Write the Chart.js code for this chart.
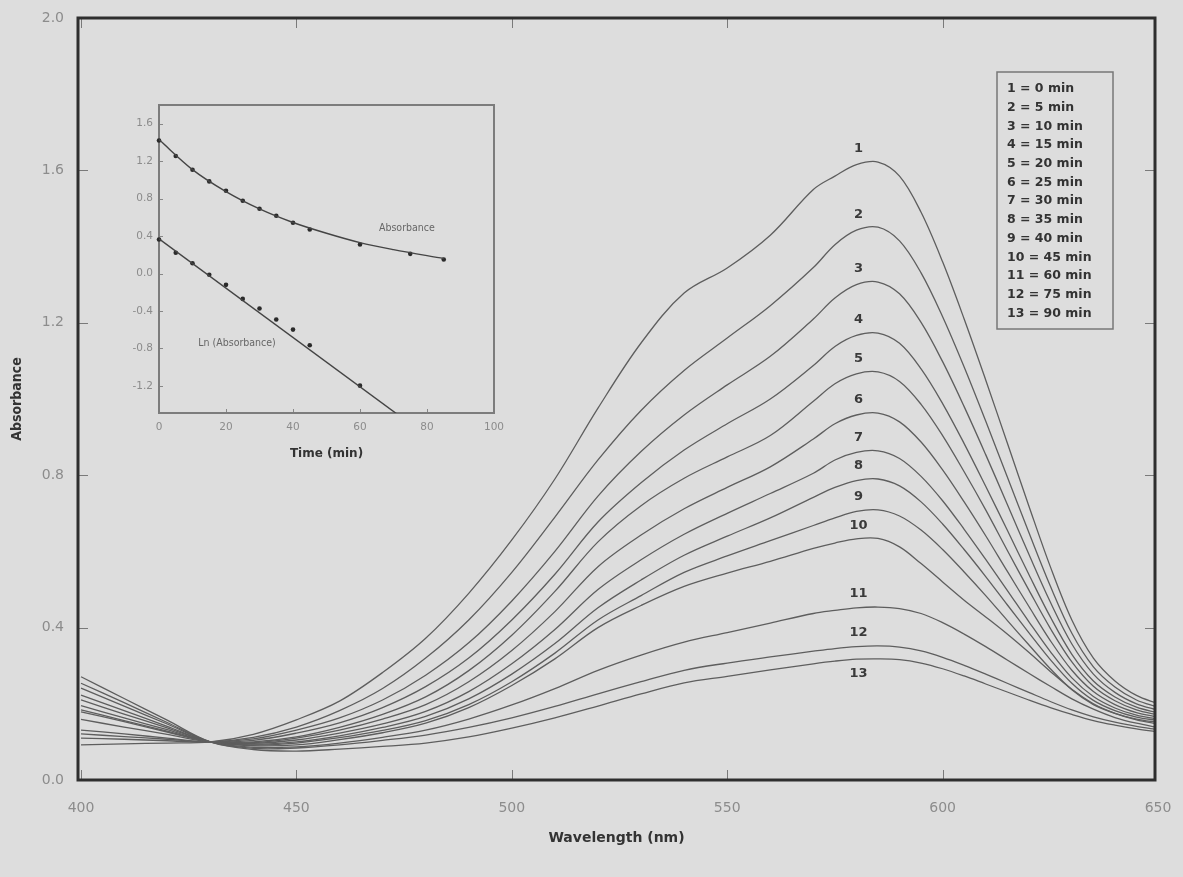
<!DOCTYPE html>
<html><head><meta charset="utf-8">
<script src="https://cdn.jsdelivr.net/npm/chart.js@4.4.1/dist/chart.umd.min.js"></script>
<style>
html,body{margin:0;padding:0;background:#dddddd;}
#wrap{position:relative;width:1183px;height:877px;overflow:hidden;}
#main{position:absolute;left:0;top:0;}
#inset{position:absolute;left:100px;top:95px;}
</style></head><body>
<div id="wrap"><canvas id="main" width="1183" height="877"></canvas><canvas id="inset" width="420" height="380"></canvas></div>
<script>
// ---------- main spectra (absorbance vs wavelength, nm) ----------
const wavelengths = [400,410,420,430,440,450,460,470,480,490,500,510,520,530,540,550,560,570,575,580,585,590,595,600,605,610,615,620,625,630,635,640,645,650];
const curve1  = [0.092,0.095,0.097,0.100,0.120,0.158,0.207,0.282,0.372,0.490,0.630,0.790,0.976,1.147,1.278,1.344,1.430,1.550,1.585,1.615,1.622,1.585,1.490,1.360,1.210,1.050,0.885,0.720,0.560,0.420,0.320,0.260,0.222,0.200];
const curve2  = [0.110,0.107,0.103,0.100,0.112,0.139,0.182,0.240,0.320,0.420,0.545,0.690,0.840,0.970,1.075,1.160,1.245,1.345,1.405,1.443,1.451,1.415,1.331,1.216,1.084,0.942,0.796,0.650,0.509,0.385,0.297,0.244,0.210,0.191];
const curve3  = [0.121,0.114,0.107,0.100,0.108,0.131,0.163,0.210,0.275,0.360,0.470,0.600,0.745,0.862,0.958,1.037,1.112,1.210,1.265,1.300,1.307,1.276,1.201,1.098,0.980,0.854,0.724,0.593,0.467,0.357,0.278,0.230,0.200,0.183];
const curve4  = [0.131,0.121,0.110,0.100,0.104,0.123,0.150,0.190,0.245,0.320,0.420,0.540,0.677,0.780,0.866,0.935,1.000,1.088,1.138,1.167,1.173,1.146,1.079,0.988,0.883,0.771,0.656,0.540,0.428,0.330,0.260,0.218,0.191,0.176];
const curve5  = [0.159,0.139,0.120,0.100,0.100,0.113,0.138,0.172,0.218,0.287,0.380,0.495,0.625,0.720,0.792,0.848,0.904,0.994,1.040,1.066,1.071,1.046,0.986,0.904,0.809,0.709,0.603,0.499,0.398,0.310,0.246,0.208,0.184,0.171];
const curve6  = [0.179,0.153,0.126,0.100,0.098,0.110,0.131,0.160,0.198,0.258,0.340,0.442,0.560,0.643,0.712,0.768,0.822,0.895,0.935,0.958,0.963,0.940,0.887,0.814,0.730,0.641,0.548,0.456,0.366,0.288,0.232,0.198,0.177,0.165];
const curve7  = [0.184,0.156,0.128,0.100,0.096,0.105,0.123,0.147,0.180,0.232,0.305,0.395,0.500,0.578,0.645,0.700,0.752,0.805,0.840,0.860,0.864,0.844,0.797,0.733,0.658,0.579,0.498,0.416,0.337,0.268,0.219,0.189,0.170,0.160];
const curve8  = [0.195,0.163,0.132,0.100,0.094,0.100,0.116,0.138,0.167,0.213,0.278,0.358,0.452,0.525,0.590,0.640,0.688,0.742,0.768,0.786,0.790,0.772,0.730,0.672,0.605,0.534,0.460,0.387,0.316,0.254,0.209,0.182,0.165,0.156];
const curve9  = [0.210,0.173,0.137,0.100,0.092,0.097,0.111,0.130,0.156,0.198,0.258,0.333,0.420,0.484,0.545,0.588,0.628,0.668,0.688,0.705,0.709,0.693,0.656,0.605,0.546,0.484,0.419,0.355,0.292,0.237,0.198,0.175,0.160,0.151];
const curve10 = [0.223,0.182,0.141,0.100,0.090,0.092,0.106,0.124,0.149,0.190,0.248,0.318,0.400,0.458,0.508,0.543,0.574,0.608,0.622,0.633,0.634,0.612,0.568,0.520,0.472,0.428,0.383,0.335,0.285,0.238,0.200,0.175,0.158,0.147];
const curve11 = [0.241,0.194,0.147,0.100,0.086,0.087,0.097,0.112,0.131,0.160,0.197,0.240,0.288,0.328,0.362,0.387,0.412,0.437,0.445,0.452,0.454,0.450,0.437,0.413,0.383,0.350,0.315,0.280,0.246,0.213,0.186,0.164,0.149,0.138];
const curve12 = [0.254,0.203,0.151,0.100,0.083,0.084,0.092,0.104,0.118,0.138,0.163,0.193,0.226,0.258,0.288,0.307,0.323,0.338,0.345,0.350,0.352,0.349,0.339,0.322,0.301,0.278,0.254,0.230,0.206,0.184,0.166,0.152,0.141,0.132];
const curve13 = [0.271,0.214,0.157,0.100,0.080,0.076,0.081,0.088,0.097,0.113,0.136,0.163,0.194,0.226,0.255,0.272,0.289,0.305,0.312,0.317,0.318,0.316,0.307,0.292,0.273,0.252,0.231,0.210,0.190,0.172,0.156,0.144,0.134,0.126];
const curveIds = ['1','2','3','4','5','6','7','8','9','10','11','12','13'];
const timesMin = [0,5,10,15,20,25,30,35,40,45,60,75,90];
const xTickValues = [400,450,500,550,600,650];
const yTickValues = [0.0,0.4,0.8,1.2,1.6,2.0];

// ---------- inset (kinetics) ----------
const insetTime = [0,5,10,15,20,25,30,35,40,45,60,75,85];
const insetAbs  = [1.42,1.255,1.109,0.984,0.884,0.778,0.692,0.617,0.542,0.470,0.310,0.210,0.150];
const insetLnTime = [0,5,10,15,20,25,30,35,40,45,60];
const insetLn   = [0.364,0.221,0.110,-0.014,-0.121,-0.271,-0.374,-0.492,-0.599,-0.767,-1.198];
const fitTime   = [0,10,20,30,40,50,60,70,85];
const fitAbs    = [1.43,1.11,0.875,0.69,0.545,0.43,0.33,0.255,0.16];
const lnFitTime = [0,71];
const lnFit     = [0.37,-1.50];
const insetXTicks = [0,20,40,60,80,100];
const insetYTicks = [-1.2,-0.8,-0.4,0.0,0.4,0.8,1.2,1.6];

const curves = [curve1,curve2,curve3,curve4,curve5,curve6,curve7,curve8,curve9,curve10,curve11,curve12,curve13];
const pts = (xs, ys) => xs.map((v,i)=>({x:v,y:ys[i]}));

const mainFrame = {
  id:'mainFrame',
  afterDatasetsDraw(chart){
    const {ctx, chartArea:a, scales:{x,y}} = chart;
    ctx.save();
    ctx.strokeStyle='#7a7a7a'; ctx.lineWidth=1;
    ctx.beginPath();
    x.ticks.forEach(t=>{const p=Math.round(x.getPixelForValue(t.value))+0.5;
      if (p < a.left+2 || p > a.right-2) return;
      ctx.moveTo(p,a.bottom); ctx.lineTo(p,a.bottom-10); ctx.moveTo(p,a.top); ctx.lineTo(p,a.top+10);});
    y.ticks.forEach(t=>{const p=Math.round(y.getPixelForValue(t.value))+0.5;
      if (p < a.top+2 || p > a.bottom-2) return;
      ctx.moveTo(a.left,p); ctx.lineTo(a.left+10,p); ctx.moveTo(a.right,p); ctx.lineTo(a.right-10,p);});
    ctx.stroke();
    ctx.strokeStyle='#2e2e2e'; ctx.lineWidth=3;
    ctx.strokeRect(a.left,a.top,a.right-a.left,a.bottom-a.top);
    // curve numbers above each peak
    ctx.fillStyle='#3a3a3a'; ctx.font='bold 13px "DejaVu Sans"'; ctx.textAlign='center'; ctx.textBaseline='middle';
    const lx = x.getPixelForValue(580.5);
    curves.forEach((c,i)=>{
      const py = y.getPixelForValue(Math.max(...c));
      const off = i===curves.length-1 ? 15 : -13;
      ctx.fillText(curveIds[i], lx, py+off);
    });
    // legend box
    const bx=997, by=72, bw=116, bh=257;
    ctx.strokeStyle='#777'; ctx.lineWidth=1.5; ctx.strokeRect(bx,by,bw,bh);
    ctx.textAlign='left'; ctx.font='bold 12.5px "DejaVu Sans"'; ctx.fillStyle='#333';
    curveIds.forEach((id,i)=>{ ctx.fillText(id+' = '+timesMin[i]+' min', bx+10, by+17+i*18.7); });
    ctx.restore();
  }
};

new Chart(document.getElementById('main'), {
  type:'scatter',
  data:{datasets: curves.map((c,i)=>({
    label:curveIds[i], data:pts(wavelengths,c), showLine:true, fill:false,
    borderColor:'#5e5e5e', borderWidth:1.3, pointRadius:0, tension:0.35
  }))},
  options:{
    responsive:false, animation:false, devicePixelRatio:1,
    layout:{padding:{left:0,top:18,right:28,bottom:0}},
    plugins:{legend:{display:false}, tooltip:{enabled:false}},
    scales:{
      x:{type:'linear', min:399.3, max:649.3,
        afterBuildTicks:s=>{s.ticks=xTickValues.map(v=>({value:v}));},
        grid:{display:false, drawTicks:false}, border:{display:false},
        ticks:{padding:20, color:'#8c8c8c', font:{family:'DejaVu Sans', size:14}, callback:v=>String(v)},
        title:{display:true, text:'Wavelength (nm)', color:'#333', font:{family:'DejaVu Sans', size:14, weight:'bold'}, padding:{top:0,bottom:30}},
        afterFit:s=>{s.height=97; s.paddingLeft=0; s.paddingRight=0;}},
      y:{type:'linear', min:0, max:2,
        afterBuildTicks:s=>{s.ticks=yTickValues.map(v=>({value:v}));},
        grid:{display:false, drawTicks:false}, border:{display:false},
        ticks:{padding:14, color:'#8c8c8c', font:{family:'DejaVu Sans', size:14}, callback:v=>Number(v).toFixed(1)},
        title:{display:true, text:'Absorbance', color:'#333', font:{family:'"DejaVu Sans Condensed", "DejaVu Sans"', size:14, weight:'bold'}, padding:{top:9,bottom:0}},
        afterFit:s=>{s.width=78; s.paddingTop=0; s.paddingBottom=0;}}
    }
  },
  plugins:[mainFrame]
});

const insetFrame = {
  id:'insetFrame',
  beforeDatasetsDraw(chart){
    const {ctx, chartArea:a, scales:{x,y}} = chart;
    ctx.save();
    ctx.strokeStyle='#888'; ctx.lineWidth=1;
    ctx.beginPath();
    x.ticks.forEach(t=>{const p=Math.round(x.getPixelForValue(t.value))+0.5; ctx.moveTo(p,a.bottom); ctx.lineTo(p,a.bottom-4);});
    y.ticks.forEach(t=>{const p=Math.round(y.getPixelForValue(t.value))+0.5; ctx.moveTo(a.left,p); ctx.lineTo(a.left+4,p);});
    ctx.stroke();
    ctx.strokeStyle='#7c7c7c'; ctx.lineWidth=2;
    ctx.strokeRect(a.left,a.top,a.right-a.left,a.bottom-a.top);
    ctx.fillStyle='#666'; ctx.font='10.5px "DejaVu Sans Condensed", "DejaVu Sans"'; ctx.textAlign='center'; ctx.textBaseline='middle';
    ctx.fillText('Absorbance', x.getPixelForValue(74), y.getPixelForValue(0.48));
    ctx.fillText('Ln (Absorbance)', x.getPixelForValue(23.3), y.getPixelForValue(-0.75));
    ctx.restore();
  }
};

new Chart(document.getElementById('inset'), {
  type:'scatter',
  data:{datasets:[
    {label:'fit', data:pts(fitTime,fitAbs), showLine:true, borderColor:'#444', borderWidth:1.4, pointRadius:0, cubicInterpolationMode:'monotone'},
    {label:'lnfit', data:pts(lnFitTime,lnFit), showLine:true, borderColor:'#444', borderWidth:1.4, pointRadius:0},
    {label:'Absorbance', data:pts(insetTime,insetAbs), showLine:false, pointRadius:2.3, pointBackgroundColor:'#2a2a2a', pointBorderWidth:0, clip:4},
    {label:'Ln (Absorbance)', data:pts(insetLnTime,insetLn), showLine:false, pointRadius:2.3, pointBackgroundColor:'#2a2a2a', pointBorderWidth:0, clip:4}
  ]},
  options:{
    responsive:false, animation:false, devicePixelRatio:1,
    layout:{padding:{left:0,top:10,right:26,bottom:0}},
    plugins:{legend:{display:false}, tooltip:{enabled:false}},
    scales:{
      x:{type:'linear', min:0, max:100,
        afterBuildTicks:s=>{s.ticks=insetXTicks.map(v=>({value:v}));},
        grid:{display:false, drawTicks:false}, border:{display:false},
        ticks:{padding:8, color:'#8c8c8c', font:{family:'DejaVu Sans', size:10.5}, callback:v=>String(v)},
        title:{display:true, text:'Time (min)', color:'#333', font:{family:'DejaVu Sans', size:12, weight:'bold'}, padding:{top:0,bottom:14}},
        afterFit:s=>{s.height=62; s.paddingLeft=0; s.paddingRight=0;}},
      y:{type:'linear', min:-1.49, max:1.8,
        afterBuildTicks:s=>{s.ticks=insetYTicks.map(v=>({value:v}));},
        grid:{display:false, drawTicks:false}, border:{display:false},
        ticks:{padding:6, color:'#8c8c8c', font:{family:'DejaVu Sans', size:10.5}, callback:v=>Number(v).toFixed(1)},
        afterFit:s=>{s.width=59; s.paddingTop=0; s.paddingBottom=0;}}
    }
  },
  plugins:[insetFrame]
});
</script>
</body></html>
